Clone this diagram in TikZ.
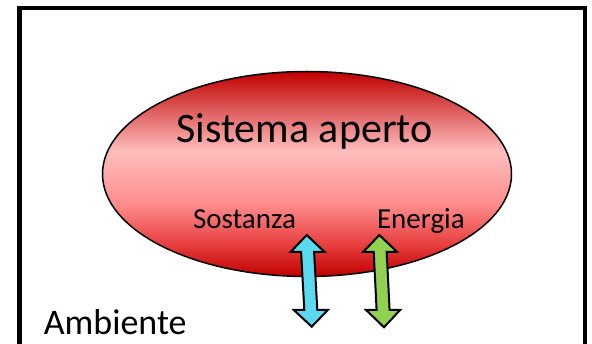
\documentclass[tikz,border=0pt]{standalone}
\usepackage{fontspec}
\setmainfont{Carlito}
\definecolor{dred}{HTML}{C00000}
\definecolor{lpink}{HTML}{FFBEBE}
\definecolor{salmon}{HTML}{FF8E8E}
\definecolor{midred}{HTML}{E84040}
\definecolor{cyanfill}{HTML}{5BD9EF}
\definecolor{greenfill}{HTML}{92D050}
\pgfdeclareverticalshading{sysshade}{100bp}{%
  color(0bp)=(dred); color(25bp)=(dred); color(33bp)=(midred);
  color(43bp)=(salmon); color(55.5bp)=(lpink); color(75bp)=(dred); color(100bp)=(dred)}
\tikzset{
  frame/.style={line width=4.5pt, line cap=rect},
  sysellipse/.style={draw=black, line width=1.5pt, shading=sysshade},
  label/.style={inner sep=0pt, anchor=base west, text=black},
  arrowshape/.style={draw=black, line width=2pt, line join=miter}
}
\begin{document}
\begin{tikzpicture}[x=1pt,y=-1pt]
\useasboundingbox (0,0) rectangle (592,344);
\fill[white] (0,0) rectangle (592,344);
% frame
\draw[frame] (19.5,360) -- (19.5,8) -- (585,8) -- (585,360);
% ellipse
\path[sysellipse] (307,174) ellipse [x radius=204.5, y radius=102.5];
\node[inner sep=0pt, anchor=base, font=\fontsize{42}{48}\selectfont] (sys) at (304.5,143) {Sistema aperto};
\node[label, font=\fontsize{29}{34}\selectfont] (sost) at (192.8,229) {Sostanza};
\node[label, font=\fontsize{29}{34}\selectfont] (ener) at (376.8,229) {Energia};
\node[label, font=\fontsize{36}{42}\selectfont] (amb) at (43.6,335) {Ambiente};
% blue arrow
\filldraw[arrowshape, fill=cyanfill] (306.7,235) -- (324.6,252) -- (314.1,252) -- (317.3,310) -- (327.8,310) -- (311.7,326.7) -- (293.8,310) -- (304.3,310) -- (301.1,252) -- (290.6,252) -- cycle;
% green arrow
\filldraw[arrowshape, fill=greenfill] (379.3,235) -- (397.2,252) -- (386.7,252) -- (389.6,310) -- (400.1,310) -- (384,327.3) -- (366.1,310) -- (376.6,310) -- (373.7,252) -- (363.2,252) -- cycle;
\end{tikzpicture}
\end{document}
